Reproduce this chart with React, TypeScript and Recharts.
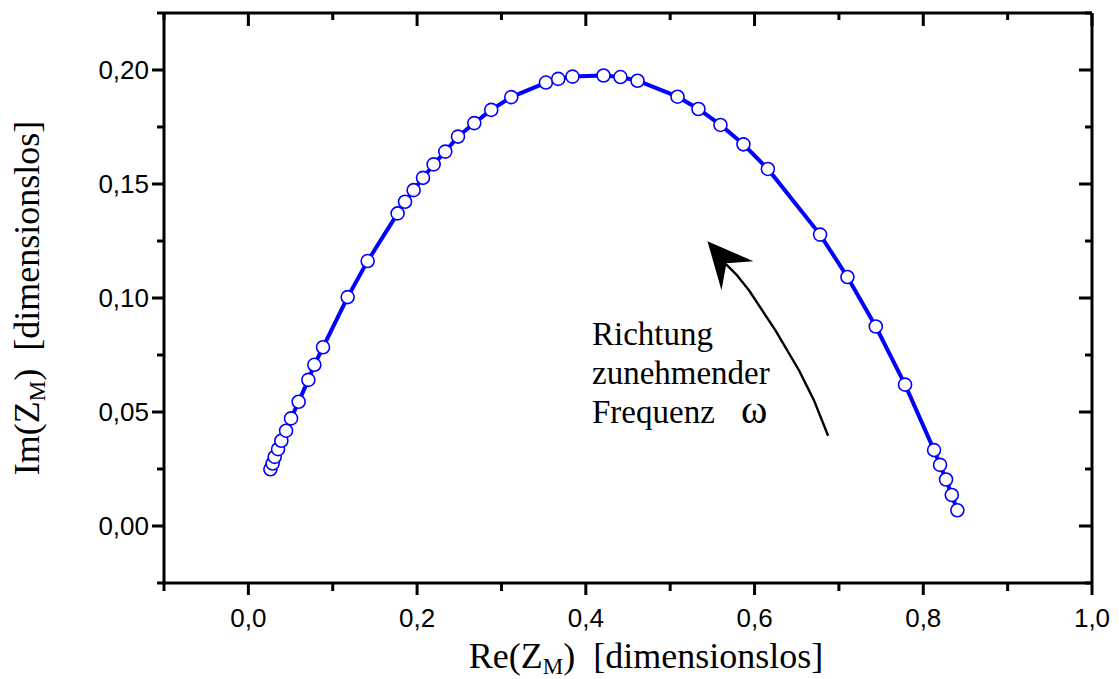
import { ScatterChart, Scatter, XAxis, YAxis, ReferenceDot } from 'recharts';

// Re(Z_M) and Im(Z_M)
const reValues = [
  0.0261, 0.0288, 0.0312, 0.0352, 0.0391, 0.0447, 0.0506, 0.0596, 0.0711, 0.0782,
  0.0885, 0.1177, 0.1414, 0.1769, 0.1857, 0.1959, 0.207, 0.2196, 0.2334, 0.2485,
  0.2678, 0.2879, 0.3116, 0.3527, 0.3673, 0.3842, 0.421, 0.4411, 0.4613, 0.5087,
  0.5335, 0.5596, 0.5868, 0.6158, 0.6777, 0.7101, 0.7437, 0.7784, 0.8128, 0.8199,
  0.827, 0.8338, 0.8404,
];
const imValues = [
  0.0249, 0.0274, 0.0303, 0.0337, 0.0374, 0.0418, 0.0472, 0.0545, 0.0641, 0.0707,
  0.0784, 0.1004, 0.1162, 0.1371, 0.1422, 0.1473, 0.1527, 0.1586, 0.1642, 0.1708,
  0.1767, 0.1825, 0.1881, 0.1945, 0.1961, 0.1971, 0.1976, 0.1969, 0.1953, 0.1883,
  0.1829, 0.1759, 0.1674, 0.1566, 0.1278, 0.1092, 0.0875, 0.062, 0.0333, 0.0268,
  0.0204, 0.0136, 0.0069,
];

// arrow "Richtung zunehmender Frequenz"
const arrowRe = [0.6872, 0.6706, 0.6528, 0.6248, 0.6091, 0.5936, 0.5794, 0.5676, 0.5616];
const arrowIm = [0.0396, 0.0550, 0.0682, 0.0858, 0.0946, 0.1033, 0.1099, 0.1143, 0.1160];
const arrowTip = { x: 0.5442, y: 0.1249 };

const xTicks = [-0.1, 0, 0.1, 0.2, 0.3, 0.4, 0.5, 0.6, 0.7, 0.8, 0.9, 1.0];
const yTicks = [-0.025, 0, 0.025, 0.05, 0.075, 0.1, 0.125, 0.15, 0.175, 0.2, 0.225];

const points = reValues.map((x, i) => ({ x, y: imValues[i] }));
const arrowPoints = arrowRe.map((x, i) => ({ x, y: arrowIm[i] }));

const sans = '"Liberation Sans", Arial, sans-serif';
const serif = '"Liberation Serif", "Times New Roman", serif';
const BLUE = '#0000ff';

const isMajorX = (v: number) => Math.round(v * 10) % 2 === 0;
const isMajorY = (v: number) => Math.round(v * 1000) % 50 === 0;

const BottomTick = ({ x, y, payload }: any) => {
  const major = isMajorX(payload.value);
  return (
    <g>
      <line x1={x} x2={x} y1={y} y2={y + (major ? 12 : 8)} stroke="#000" strokeWidth={3} />
      {major && (
        <text x={x} y={y + 44} textAnchor="middle" fontFamily={sans} fontSize={26} fill="#000">
          {payload.value.toFixed(1).replace('.', ',')}
        </text>
      )}
    </g>
  );
};

const TopTick = ({ x, y, payload }: any) => {
  const major = isMajorX(payload.value);
  return <line x1={x} x2={x} y1={y} y2={y + (major ? 13 : 7)} stroke="#000" strokeWidth={3} />;
};

const LeftTick = ({ x, y, payload }: any) => {
  const major = isMajorY(payload.value);
  return (
    <g>
      <line x1={x - (major ? 12 : 7)} x2={x} y1={y} y2={y} stroke="#000" strokeWidth={3} />
      {major && (
        <text x={x - 15} y={y + 9} textAnchor="end" fontFamily={sans} fontSize={26} fill="#000">
          {payload.value.toFixed(2).replace('.', ',')}
        </text>
      )}
    </g>
  );
};

const RightTick = ({ x, y, payload }: any) => {
  const major = isMajorY(payload.value);
  return <line x1={x - (major ? 13 : 7)} x2={x} y1={y} y2={y} stroke="#000" strokeWidth={3} />;
};

const XLabel = ({ viewBox }: any) => (
  <text
    x={viewBox.x + viewBox.width / 2 + 18}
    y={viewBox.y + 85}
    textAnchor="middle"
    fontFamily={serif}
    fontSize={36}
    fill="#000"
    style={{ whiteSpace: 'pre' }}
  >
    <tspan>Re(Z</tspan>
    <tspan fontSize={23} dy={6}>M</tspan>
    <tspan dy={-6}>)  [dimensionslos]</tspan>
  </text>
);

const YLabel = ({ viewBox }: any) => {
  const cx = 39;
  const cy = viewBox.y + viewBox.height / 2;
  return (
    <text
      x={cx}
      y={cy}
      transform={`rotate(-90, ${cx}, ${cy})`}
      textAnchor="middle"
      fontFamily={serif}
      fontSize={36}
      fill="#000"
      style={{ whiteSpace: 'pre' }}
    >
      <tspan>Im(Z</tspan>
      <tspan fontSize={23} dy={6}>M</tspan>
      <tspan dy={-6}>)  [dimensionslos]</tspan>
    </text>
  );
};

const Ring = (props: any) => (
  <circle cx={props.cx} cy={props.cy} r={6.5} fill="#fff" stroke={BLUE} strokeWidth={1.6} />
);

const ArrowHead = ({ cx, cy }: any) => (
  <path
    d={`M${cx},${cy} L${cx + 46},${cy + 20} L${cx + 19},${cy + 22} L${cx + 14},${cy + 49} Z`}
    fill="#000"
  />
);

export default function App() {
  return (
    <div style={{ position: 'absolute', left: 0, top: 0, background: '#fff' }}>
      <ScatterChart width={1119} height={679} margin={{ top: 3, right: 17, bottom: 36, left: 64 }}>
        <XAxis
          xAxisId={0}
          type="number"
          dataKey="x"
          domain={[-0.1, 1.0]}
          ticks={xTicks}
          allowDataOverflow
          height={60}
          tickSize={0}
          tickMargin={0}
          tickLine={false}
          axisLine={{ stroke: '#000', strokeWidth: 3 }}
          tick={<BottomTick />}
          interval={0}
          label={<XLabel />}
        />
        <XAxis
          xAxisId="top"
          orientation="top"
          type="number"
          dataKey="x"
          domain={[-0.1, 1.0]}
          ticks={xTicks}
          allowDataOverflow
          height={10}
          tickSize={0}
          tickMargin={0}
          tickLine={false}
          axisLine={{ stroke: '#000', strokeWidth: 3 }}
          tick={<TopTick />}
          interval={0}
        />
        <YAxis
          yAxisId={0}
          type="number"
          dataKey="y"
          domain={[-0.025, 0.225]}
          ticks={yTicks}
          allowDataOverflow
          width={100}
          tickSize={0}
          tickMargin={0}
          tickLine={false}
          axisLine={{ stroke: '#000', strokeWidth: 3 }}
          tick={<LeftTick />}
          interval={0}
          label={<YLabel />}
        />
        <YAxis
          yAxisId="right"
          orientation="right"
          type="number"
          dataKey="y"
          domain={[-0.025, 0.225]}
          ticks={yTicks}
          allowDataOverflow
          width={10}
          tickSize={0}
          tickMargin={0}
          tickLine={false}
          axisLine={{ stroke: '#000', strokeWidth: 3 }}
          tick={<RightTick />}
          interval={0}
        />
        <Scatter
          data={arrowPoints}
          line={{ stroke: '#000', strokeWidth: 2.4, strokeLinejoin: 'round' }}
          shape={() => <g />}
          isAnimationActive={false}
        />
        <Scatter
          data={points}
          fill={BLUE}
          line={{ stroke: BLUE, strokeWidth: 4 }}
          shape={<Ring />}
          isAnimationActive={false}
        />
        <ReferenceDot x={arrowTip.x} y={arrowTip.y} r={0} shape={<ArrowHead />} />
        <text fontFamily={serif} fontSize={33} fill="#000">
          <tspan x={592} y={345}>Richtung</tspan>
          <tspan x={592} y={384}>zunehmender</tspan>
          <tspan x={592} y={423}>Frequenz</tspan>
        </text>
        <text x={741} y={423} fontFamily={serif} fontSize={40} fill="#000">ω</text>
      </ScatterChart>
    </div>
  );
}
